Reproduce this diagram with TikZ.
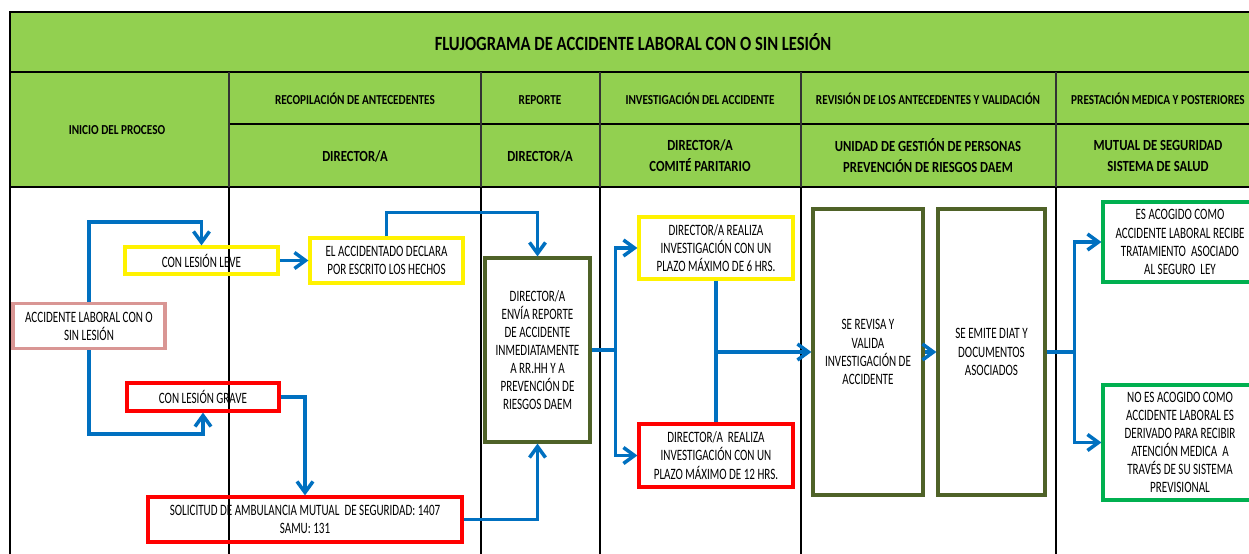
\documentclass[tikz,border=0pt]{standalone}
\usepackage{fontspec}
\setmainfont{Carlito}[FakeStretch=0.7]
\newfontfamily\cabfont{Carlito}[FakeStretch=0.82]
\usetikzlibrary{arrows.meta}
\definecolor{cabecera}{HTML}{92D050}
\definecolor{flecha}{HTML}{0070C0}
\definecolor{oliva}{HTML}{4F6228}
\definecolor{rosa}{HTML}{D99694}
\definecolor{verde}{HTML}{00B050}

\begin{document}
\begin{tikzpicture}[x=0.02cm, y=-0.02cm,
    main/.style = {draw, line width=1.8pt, align=center, inner sep=1pt, font=\fontsize{9}{10.3}\selectfont},
    head/.style = {align=center, font=\cabfont\bfseries\fontsize{7.8}{8.5}\selectfont},
    role/.style = {align=center, font=\cabfont\bfseries\fontsize{8.8}{12}\selectfont},
    flow/.style = {draw=flecha, line width=2pt, -{Straight Barb[length=2.2mm,width=3.2mm]}}]
    \useasboundingbox (0,0) rectangle (1249,554);
    \clip (0,0) rectangle (1249,554);
    \fill[cabecera] (10,12) rectangle (1270,187);
    \draw[line width=1.4pt] (10,554) -- (10,12) -- (1270,12);
    \draw[line width=1.1pt] (10,72) -- (1270,72) (229,124) -- (1270,124) (10,187) -- (1270,187);
    \foreach \x in {229,481,600,801,1056} {
        \draw[line width=1.1pt, black!80] (\x,72) -- (\x,187);
        \draw[line width=0.7pt] (\x,187) -- (\x,554);
    }

    \node[align=center, font=\cabfont\bfseries\fontsize{11.5}{13}\selectfont] (t) at (633,42) {FLUJOGRAMA DE ACCIDENTE LABORAL CON O SIN LESIÓN};
    \node[head] (h0) at (117,130) {INICIO DEL PROCESO};
    \node[head] (h1) at (355,99) {RECOPILACIÓN DE ANTECEDENTES};
    \node[head] (h2) at (540,100) {REPORTE};
    \node[head] (h3) at (700,99) {INVESTIGACIÓN DEL ACCIDENTE};
    \node[head] (h4) at (928,99) {REVISIÓN DE LOS ANTECEDENTES Y VALIDACIÓN};
    \node[head] (h5) at (1158,99) {PRESTACIÓN MEDICA Y POSTERIORES};
    \node[role] (r1) at (355,156) {DIRECTOR/A};
    \node[role] (r2) at (540,156) {DIRECTOR/A};
    \node[role] (r3) at (700,156) {DIRECTOR/A\\COMITÉ PARITARIO};
    \node[role] (r4) at (928,156) {UNIDAD DE GESTIÓN DE PERSONAS\\PREVENCIÓN DE RIESGOS DAEM};
    \node[role] (r5) at (1158,156) {MUTUAL DE SEGURIDAD\\SISTEMA DE SALUD};

    \node[main, draw=rosa, minimum width=3.04cm, minimum height=0.9cm] (1) at (89,326) {ACCIDENTE LABORAL CON O\\SIN LESIÓN};
    \node[main, draw=yellow, minimum width=3.06cm, minimum height=0.54cm] (2) at (201.5,260.5) {CON LESIÓN LEVE};
    \node[main, draw=yellow, minimum width=3.06cm, minimum height=0.9cm] (3) at (386.5,260.5) {EL ACCIDENTADO DECLARA\\POR ESCRITO LOS HECHOS};
    \node[main, draw=red, minimum width=3.04cm, minimum height=0.56cm] (4) at (203,397) {CON LESIÓN GRAVE};
    \node[main, draw=red, minimum width=6.28cm, minimum height=0.9cm] (5) at (305,519.5) {SOLICITUD DE AMBULANCIA MUTUAL\ \ DE SEGURIDAD: 1407\\SAMU: 131};
    \node[main, draw=oliva, minimum width=2.1cm, minimum height=3.68cm] (6) at (537.5,350) {DIRECTOR/A\\ENVÍA REPORTE\\DE ACCIDENTE\\INMEDIATAMENTE\\A RR.HH Y A\\PREVENCIÓN DE\\RIESGOS DAEM};
    \node[main, draw=yellow, minimum width=3.08cm, minimum height=1.24cm] (7) at (716,248) {DIRECTOR/A REALIZA\\INVESTIGACIÓN CON UN\\PLAZO MÁXIMO DE 6 HRS.};
    \node[main, draw=red, minimum width=3.08cm, minimum height=1.26cm] (8) at (716,455.5) {DIRECTOR/A\ \ REALIZA\\INVESTIGACIÓN CON UN\\PLAZO MÁXIMO DE 12 HRS.};
    \node[main, draw=oliva, minimum width=2.2cm, minimum height=5.72cm] (9) at (868,352) {SE REVISA Y\\VALIDA\\INVESTIGACIÓN DE\\ACCIDENTE};
    \node[main, draw=oliva, minimum width=2.14cm, minimum height=5.72cm] (10) at (991.5,352) {SE EMITE DIAT Y\\DOCUMENTOS\\ASOCIADOS};
    \node[main, draw=verde, minimum width=3.08cm, minimum height=1.6cm] (11) at (1180,242) {ES ACOGIDO COMO\\ACCIDENTE LABORAL RECIBE\\TRATAMIENTO\ \ ASOCIADO\\AL SEGURO\ \ LEY};
    \node[main, draw=verde, minimum width=3.08cm, minimum height=2.3cm] (12) at (1180,442.5) {NO ES ACOGIDO COMO\\ACCIDENTE LABORAL ES\\DERIVADO PARA RECIBIR\\ATENCIÓN MEDICA\ \ A\\TRAVÉS DE SU SISTEMA\\PREVISIONAL};
    \coordinate (13) at (7.south |- 9.west);

\draw[flow] (1.north) -- ++(0,-80) -| (2.north);
\draw[flow] (1.south) -- ++(0,84) -| (4.south);
\draw[flow] (2) -- (3);
\draw[flow] (3.north) -- ++(0,-24) -| (6.north);
\draw[flow] (4.east) -| (5.north);
\draw[flow] (5.east) -| (6.south);
\draw[flow] (6.east) -- ++(24,0) |- (7.west);
\draw[flow] (6.east) -- ++(24,0) |- (8.west);
\draw[flow, -] (7.south) -- (8.north);
\draw[flow] (13) -- (9.west);
\draw[flow] (9) -- (10);
\draw[flow] (10.east) -- ++(28,0) |- (11.west);
\draw[flow] (10.east) -- ++(28,0) |- (12.west);
\end{tikzpicture}
\end{document}
